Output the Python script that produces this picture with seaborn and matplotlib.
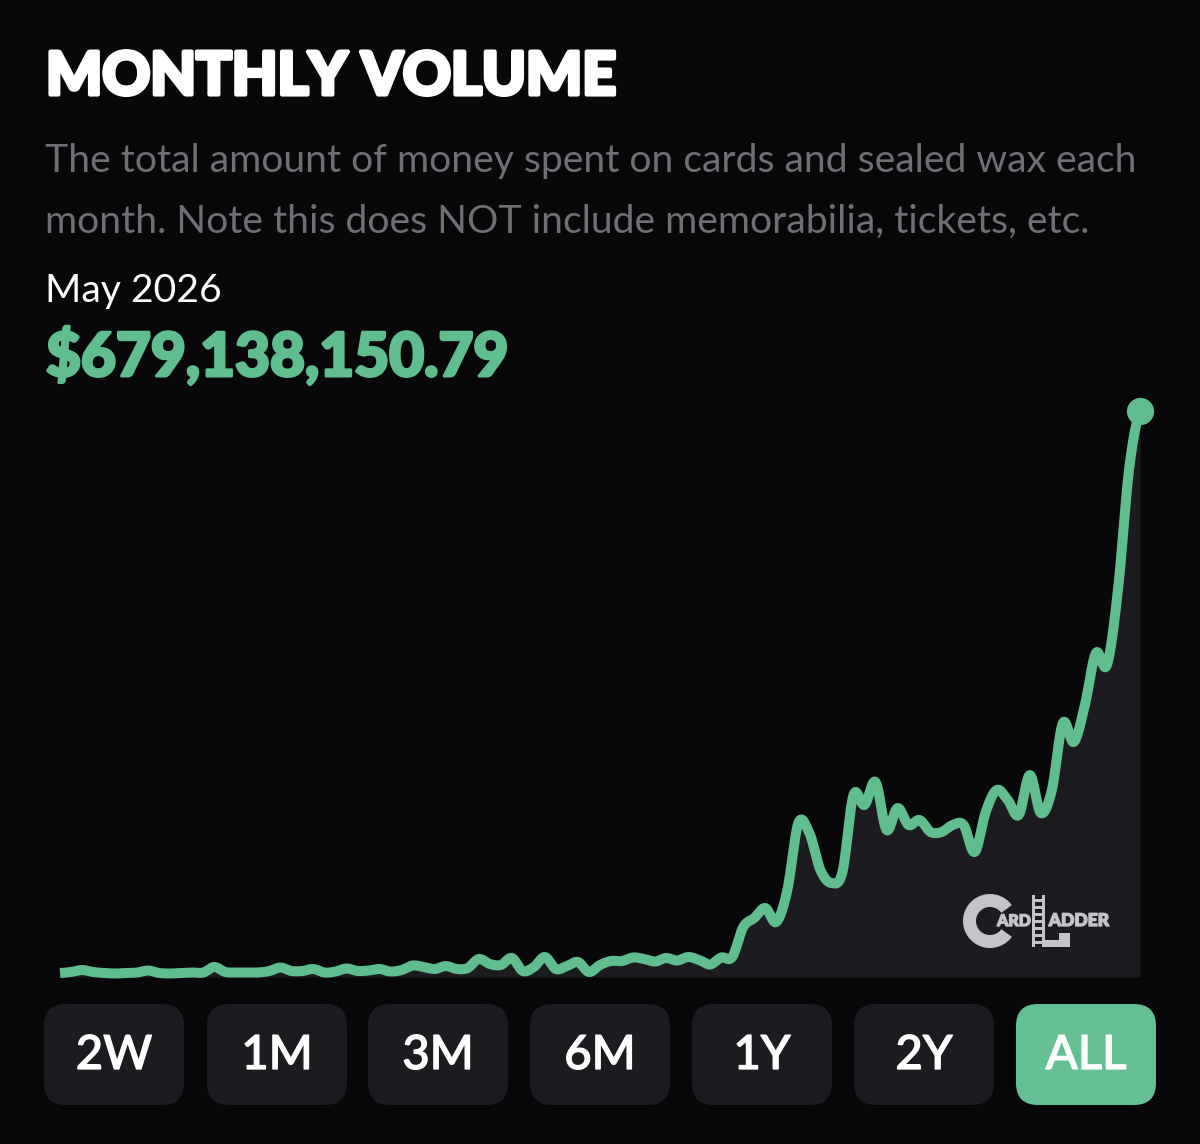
import numpy as np
import pandas as pd
import matplotlib
matplotlib.use("Agg")
import matplotlib.pyplot as plt
from matplotlib.patches import FancyBboxPatch, Rectangle, Wedge
import matplotlib.patheffects as pe
import seaborn as sns

TITLE = "MONTHLY VOLUME"
SUB1 = "The total amount of money spent on cards and sealed wax each"
SUB2 = "month. Note this does NOT include memorabilia, tickets, etc."
DATE = "May 2026"
PRICE = "$679,138,150.79"
BUTTONS = ["2W", "1M", "3M", "6M", "1Y", "2Y", "ALL"]

months = pd.date_range("2018-03-01", "2026-05-01", freq="MS")
volume_musd = [
    4.8, 6.0, 8.4, 6.0, 4.8, 4.2, 4.8, 5.4, 7.8, 4.8,
    4.2, 4.8, 5.4, 5.4, 12.0, 6.0, 5.4, 5.4, 5.4, 7.2,
    11.4, 7.2, 7.2, 9.6, 5.4, 6.6, 10.2, 7.2, 7.8, 9.6,
    6.6, 8.4, 13.8, 12.0, 9.6, 13.2, 9.6, 10.8, 21.6, 15.6,
    14.4, 22.8, 7.2, 12.0, 24.0, 9.6, 13.2, 18.0, 6.0, 14.4,
    19.2, 19.2, 23.4, 21.6, 18.6, 22.8, 19.8, 24.0, 20.4, 15.0,
    23.4, 24.0, 60.0, 70.8, 82.8, 66.0, 104.4, 184.8, 172.8, 128.4,
    112.8, 126.0, 218.4, 206.4, 234.0, 176.4, 202.8, 182.4, 188.4, 174.0,
    174.0, 182.4, 182.4, 150.0, 198.0, 224.4, 212.4, 194.4, 242.4, 196.8,
    224.4, 304.8, 282.0, 326.4, 388.8, 374.4, 464.4, 608.4, 679.14,
]

BG = "#08080a"
PANEL = "#1c1c20"
GREEN = "#5fbd8e"
GREY = "#6f6f74"
LOGO = "#c4c4c8"

sns.set_theme(style="white")
plt.rcParams["font.family"] = ["Lato", "DejaVu Sans"]

W, H = 1200, 1144
fig = plt.figure(figsize=(W / 100, H / 100), dpi=100, facecolor=BG)

# chart axes: x 60..1140 px, baseline at y=977 px, top at y=400 px
ax = fig.add_axes([60 / W, 1 - 977 / H, 1080 / W, 577 / H], facecolor=BG)
idx = np.arange(len(months))
vals = np.array(volume_musd)


def smooth(x, y, n=12):
    """Catmull-Rom rendering of the line, as the source chart curves its line."""
    px = np.r_[x[0], x, x[-1]]
    py = np.r_[y[0], y, y[-1]]
    xs, ys = [], []
    for k in range(1, len(px) - 2):
        t = np.linspace(0, 1, n, endpoint=False)
        xs.append(px[k] + t * (px[k + 1] - px[k]))
        ys.append(py[k] + 0.5 * t * (py[k + 1] - py[k - 1])
                  + t**2 * (py[k - 1] - 2.5 * py[k] + 2 * py[k + 1] - 0.5 * py[k + 2])
                  + t**3 * (-0.5 * py[k - 1] + 1.5 * py[k] - 1.5 * py[k + 1] + 0.5 * py[k + 2]))
    return np.r_[np.concatenate(xs), x[-1]], np.r_[np.concatenate(ys), y[-1]]


sx, sy = smooth(idx.astype(float), vals)
ax.fill_between(sx, 0, sy, color=PANEL, lw=0, zorder=1)
sns.lineplot(x=sx, y=sy, ax=ax, color=GREEN, linewidth=7.2, zorder=3,
             estimator=None, sort=False, legend=False,
             solid_joinstyle="round", solid_capstyle="butt", clip_on=False)
sns.scatterplot(x=idx[-1:], y=vals[-1:], ax=ax, color=GREEN, s=385, linewidth=0,
                zorder=4, clip_on=False, legend=False)
ax.set_xlim(0, len(months) - 1)
ax.set_ylim(0, 577 * 1.2)
ax.set_axis_off()

# overlay in pixel coordinates for text, buttons and logo
ov = fig.add_axes([0, 0, 1, 1], facecolor="none")
ov.set_xlim(0, W)
ov.set_ylim(H, 0)
ov.set_axis_off()

ov.text(46, 77, TITLE, color="white", fontsize=42.6, fontweight="black", va="center",
        path_effects=[pe.withStroke(linewidth=3.0, foreground="white")])
ov.text(45, 161, SUB1, color=GREY, fontsize=28.15, va="center")
ov.text(45, 222, SUB2, color=GREY, fontsize=28.15, va="center")
ov.text(45, 291, DATE, color="white", fontsize=28.2, va="center")
ov.text(46, 356, PRICE, color=GREEN, fontsize=43.4, fontweight="black", va="center",
        path_effects=[pe.withStroke(linewidth=2.2, foreground=GREEN)])

btn_x = [44, 207, 368, 530, 692, 854, 1016]
btn_w = 140
for bx, label in zip(btn_x, BUTTONS):
    active = label == "ALL"
    ov.add_patch(FancyBboxPatch((bx + 22, 1004 + 22), btn_w - 44, 101 - 44,
                                boxstyle="round,pad=22,rounding_size=22", lw=0,
                                fc="#64bf92" if active else PANEL))
    ov.text(bx + btn_w / 2, 1056, label, color="white", fontsize=34,
            ha="center", va="center", fontweight="medium",
            path_effects=[pe.withStroke(linewidth=0.9, foreground="white")])

# logo
logo_fx = [pe.withStroke(linewidth=1.0, foreground=LOGO)]
ov.add_patch(Wedge((990, 921), 27, 36, 324, width=13, fc=LOGO, lw=0))
ov.text(1014, 921, "ARD", color=LOGO, fontsize=11.5, fontweight="black",
        ha="center", va="center", path_effects=logo_fx)
ov.text(1079, 921, "ADDER", color=LOGO, fontsize=12.6, fontweight="black",
        ha="center", va="center", path_effects=logo_fx)
for lx in (1032, 1041.5):
    ov.add_patch(Rectangle((lx, 895), 3, 52, fc=LOGO, lw=0))
for ly in range(899, 947, 7):
    ov.add_patch(Rectangle((1032, ly), 12, 2.5, fc=LOGO, lw=0))
ov.add_patch(Rectangle((1044, 940), 26, 7, fc=LOGO, lw=0))
ov.add_patch(Rectangle((1059, 933), 11, 8, fc=LOGO, lw=0))

fig.savefig("out.png", dpi=100, facecolor=BG)
